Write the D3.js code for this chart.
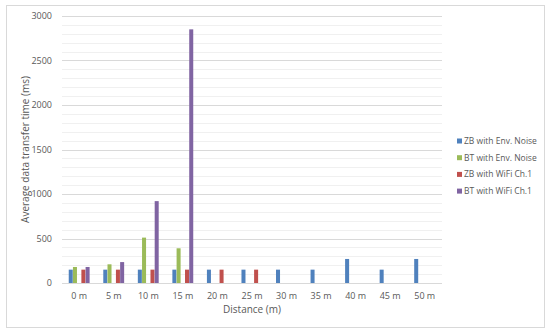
<!DOCTYPE html>
<html>
<head>
<meta charset="utf-8">
<script src="https://cdn.jsdelivr.net/npm/d3@7"></script>
<style>
  body { margin: 0; background: #fff; }
  text { font-family: "Open Sans", "Liberation Sans", sans-serif; fill: #595959; }
</style>
</head>
<body>
<div id="chart"></div>
<script>
const categories = ['0 m', '5 m', '10 m', '15 m', '20 m', '25 m', '30 m', '35 m', '40 m', '45 m', '50 m'];
const seriesNames = ['ZB with Env. Noise', 'BT with Env. Noise', 'ZB with WiFi Ch.1', 'BT with WiFi Ch.1'];
const seriesColors = ['#4F81BD', '#9BBB59', '#C0504D', '#8064A2'];
const zbEnv = [150, 150, 150, 150, 150, 150, 150, 150, 270, 150, 270];
const btEnv = [180, 210, 510, 390, null, null, null, null, null, null, null];
const zbWifi = [150, 150, 150, 150, 150, 150, null, null, null, null, null];
const btWifi = [180, 235, 920, 2850, null, null, null, null, null, null, null];
const yTicks = [0, 500, 1000, 1500, 2000, 2500, 3000];

const seriesValues = [zbEnv, btEnv, zbWifi, btWifi];
// Excel left an empty slot between the two pairs
const slots = ['s0', 's1', 'gap', 's2', 's3'];
const seriesSlot = ['s0', 's1', 's2', 's3'];

const width = 550, height = 334;
const margin = { top: 16, right: 108, bottom: 51, left: 62 };

const svg = d3.select('#chart').append('svg')
  .attr('width', width)
  .attr('height', height);

svg.append('rect')
  .attr('x', 6.5).attr('y', 5.5)
  .attr('width', 538).attr('height', 322)
  .attr('fill', '#fff')
  .attr('stroke', '#d9d9d9');

const x = d3.scaleBand()
  .domain(categories)
  .range([margin.left, width - margin.right]);

const sub = d3.scaleBand()
  .domain(slots)
  .range([0, x.bandwidth()])
  .paddingInner(0)
  .paddingOuter(1.6);

const y = d3.scaleLinear()
  .domain([0, 3000])
  .range([height - margin.bottom, margin.top]);

// minor grid
const g = svg.append('g');
g.selectAll('line.minor')
  .data(d3.range(100, 3000, 100).filter(v => v % 500 !== 0))
  .enter().append('line')
  .attr('x1', margin.left).attr('x2', width - margin.right)
  .attr('y1', d => Math.round(y(d)) + 0.5).attr('y2', d => Math.round(y(d)) + 0.5)
  .attr('stroke', '#f0f0f0');

// major grid
g.selectAll('line.major')
  .data(yTicks)
  .enter().append('line')
  .attr('x1', margin.left).attr('x2', width - margin.right)
  .attr('y1', d => Math.round(y(d)) + 0.5).attr('y2', d => Math.round(y(d)) + 0.5)
  .attr('stroke', '#d9d9d9');

// y tick labels
g.selectAll('text.ytick')
  .data(yTicks)
  .enter().append('text')
  .attr('x', margin.left - 10)
  .attr('y', d => y(d))
  .attr('dy', '0.35em')
  .attr('text-anchor', 'end')
  .attr('font-size', 9)
  .text(d => d);

// x tick labels
g.selectAll('text.xtick')
  .data(categories)
  .enter().append('text')
  .attr('x', d => x(d) + x.bandwidth() / 2)
  .attr('y', height - margin.bottom + 16)
  .attr('text-anchor', 'middle')
  .attr('font-size', 9)
  .text(d => d);

// bars
seriesValues.forEach((vals, i) => {
  svg.append('g')
    .selectAll('rect')
    .data(vals.map((v, j) => ({ cat: categories[j], v: v })).filter(d => d.v != null))
    .enter().append('rect')
    .attr('x', d => x(d.cat) + sub(seriesSlot[i]))
    .attr('y', d => y(d.v))
    .attr('width', sub.bandwidth() - 0.2)
    .attr('height', d => y(0) - y(d.v))
    .attr('fill', seriesColors[i]);
});

// axis titles
svg.append('text')
  .attr('transform', `translate(29,${(margin.top + height - margin.bottom) / 2}) rotate(-90)`)
  .attr('text-anchor', 'middle')
  .attr('font-size', 10)
  .text('Average data transfer time (ms)');

svg.append('text')
  .attr('x', (margin.left + width - margin.right) / 2)
  .attr('y', 313)
  .attr('text-anchor', 'middle')
  .attr('font-size', 10)
  .text('Distance (m)');

// legend
const legend = svg.append('g')
  .selectAll('g')
  .data(seriesNames)
  .enter().append('g')
  .attr('transform', (d, i) => `translate(457,${141 + i * 16.7})`);

legend.append('rect')
  .attr('x', 0).attr('y', -2.5)
  .attr('width', 5).attr('height', 5)
  .attr('fill', (d, i) => seriesColors[i]);

legend.append('text')
  .attr('x', 7)
  .attr('dy', '0.35em')
  .attr('font-size', 8.5)
  .text(d => d);
</script>
</body>
</html>
